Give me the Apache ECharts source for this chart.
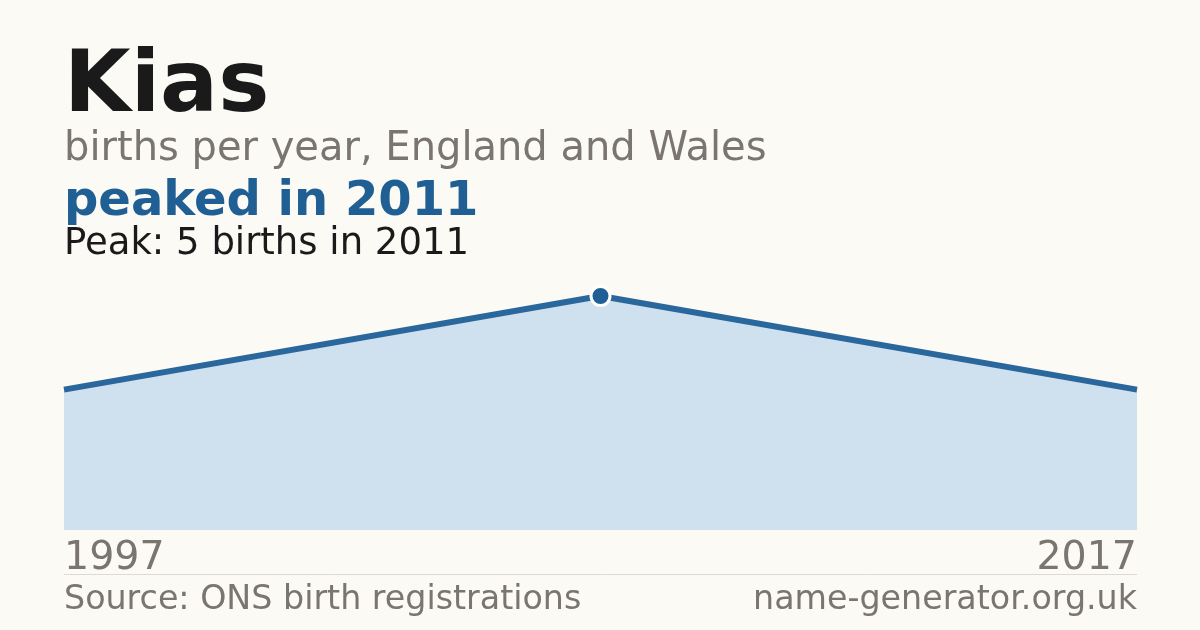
<!DOCTYPE html>
<html><head><meta charset="utf-8">
<script src="https://cdn.jsdelivr.net/npm/echarts@6/dist/echarts.min.js"></script>
<style>html,body{margin:0;padding:0;background:#fbfaf5;}#c{width:1200px;height:630px;}</style>
</head><body><div id="c"></div>
<script>
const years = ['1997', '2011', '2017'];
const births = [3, 5, 3];
const peakIndex = 1;
const titleText = 'Kias';
const subtitleText = 'births per year, England and Wales';
const headlineText = 'peaked in 2011';
const peakText = 'Peak: 5 births in 2011';
const sourceText = 'Source: ONS birth registrations';
const siteText = 'name-generator.org.uk';

const font = 'DejaVu Sans';
const grey = '#7a756e';
const chart = echarts.init(document.getElementById('c'));
function txt(pos, text, size, weight, color) {
  return Object.assign({ type: 'text', style: { text: text, fontFamily: font, fontSize: size, fontWeight: weight, fill: color } }, pos);
}
chart.setOption({
  backgroundColor: '#fbfaf5',
  animation: false,
  grid: { left: 64, right: 63, top: 296, bottom: 100 },
  xAxis: {
    type: 'category', data: years, boundaryGap: false,
    axisLine: { show: false }, axisTick: { show: false },
    axisLabel: {
      interval: 0, margin: 9,
      fontFamily: font, fontSize: 39.5, color: grey,
      alignMinLabel: 'left', alignMaxLabel: 'right',
      formatter: (v, i) => (i === 0 || i === years.length - 1) ? v : ''
    }
  },
  yAxis: { type: 'value', min: 0, max: 5, show: false, splitLine: { show: false } },
  series: [{
    type: 'line', data: births,
    lineStyle: { color: '#2a679c', width: 6 },
    areaStyle: { color: '#cfe0ef', opacity: 1 },
    symbol: 'circle', symbolSize: 0, showSymbol: false,
    clip: false,
    markPoint: {
      symbol: 'circle', symbolSize: 19,
      itemStyle: { color: '#1f5f94', borderColor: '#ffffff', borderWidth: 3 },
      label: { show: false },
      data: [{ coord: [peakIndex, births[peakIndex]] }]
    }
  }],
  graphic: [
    txt({ left: 64, top: 46 }, titleText, 86, 'bold', '#1a1a1a'),
    txt({ left: 64, top: 130 }, subtitleText, 40, 'normal', grey),
    txt({ left: 64, top: 179 }, headlineText, 48, 'bold', '#1f5f94'),
    txt({ left: 64, top: 226 }, peakText, 37, 'normal', '#1a1a1a'),
    { type: 'line', shape: { x1: 64, y1: 574.5, x2: 1137, y2: 574.5 }, style: { stroke: '#dddad3', lineWidth: 1 } },
    txt({ left: 64, top: 584 }, sourceText, 33.3, 'normal', grey),
    txt({ right: 63, top: 584 }, siteText, 33.3, 'normal', grey)
  ]
});
</script></body></html>
